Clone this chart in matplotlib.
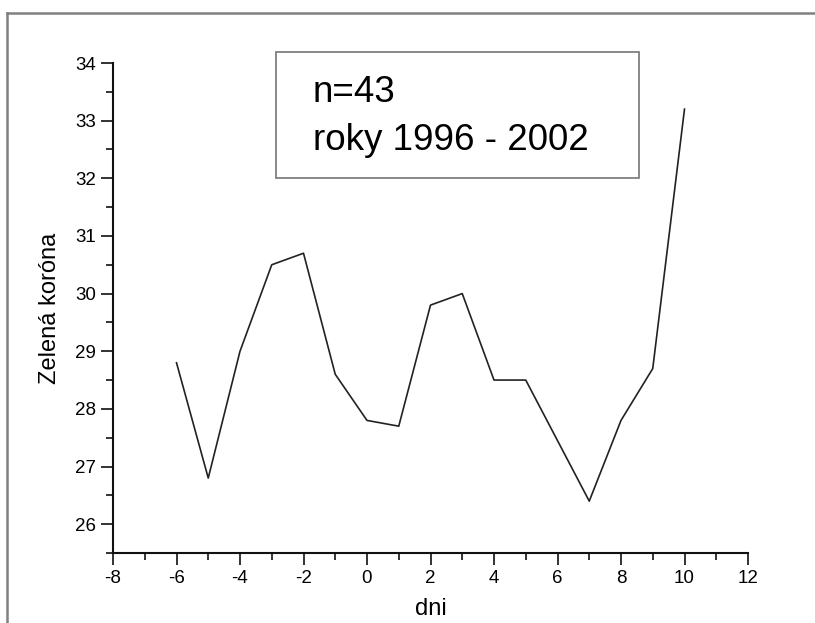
import matplotlib
matplotlib.use("Agg")
import matplotlib.pyplot as plt
from matplotlib.lines import Line2D
from matplotlib.patches import Rectangle
from matplotlib.ticker import MultipleLocator

plt.rcParams["font.family"] = ["Liberation Sans", "DejaVu Sans"]
plt.rcParams["axes.unicode_minus"] = False

# days relative to event and mean value
dni = [-6, -5, -4, -3, -2, -1, 0, 1, 2, 3, 4, 5, 6, 7, 8, 9, 10]
korona = [28.8, 26.8, 29.0, 30.5, 30.7, 28.6, 27.8, 27.7, 29.8, 30.0,
          28.5, 28.5, 27.45, 26.4, 27.8, 28.7, 33.2]

x_ticks = [-8, -6, -4, -2, 0, 2, 4, 6, 8, 10, 12]
y_ticks = [26, 27, 28, 29, 30, 31, 32, 33, 34]

W, H = 815, 623
fig = plt.figure(figsize=(W / 100, H / 100), dpi=100)
ax = fig.add_axes([113 / W, 1 - 553 / H, (748 - 113) / W, (553 - 63) / H])

ax.plot(dni, korona, color="#222222", linewidth=1.2)

ax.set_xlim(-8, 12)
ax.set_ylim(25.5, 34)
ax.set_xticks(x_ticks)
ax.set_yticks(y_ticks)
ax.xaxis.set_minor_locator(MultipleLocator(1))
ax.yaxis.set_minor_locator(MultipleLocator(0.5))

for side in ("top", "right"):
    ax.spines[side].set_visible(False)
for side in ("left", "bottom"):
    ax.spines[side].set_linewidth(1.5)
    ax.spines[side].set_color("#111111")

ax.tick_params(which="major", direction="out", length=8.5, width=1.2,
               labelsize=13.5, pad=3.5, color="#111111")
ax.tick_params(which="minor", direction="out", length=5, width=1.2,
               color="#111111")

ax.set_xlabel("dni", fontsize=17, labelpad=8)
ax.set_ylabel("Zelená koróna", fontsize=17, labelpad=10)

# outer frame (only top and left edge visible in the crop)
fig.add_artist(Line2D([7 / W, 7 / W], [0, 1 - 13 / H], color="#808080", linewidth=1.8))
fig.add_artist(Line2D([7 / W, 1], [1 - 13 / H, 1 - 13 / H], color="#808080", linewidth=1.8))

# annotation box
fig.add_artist(Rectangle((276 / W, 1 - 178 / H), (639 - 276) / W, (178 - 52) / H,
                         transform=fig.transFigure, fill=False,
                         edgecolor="#808080", linewidth=1.3))
fig.text(313 / W, 1 - 102 / H, "n=43", fontsize=26.5, va="baseline", ha="left")
fig.text(313 / W, 1 - 150 / H, "roky 1996 - 2002", fontsize=26.5, va="baseline", ha="left")

fig.savefig("out.png", dpi=100)
